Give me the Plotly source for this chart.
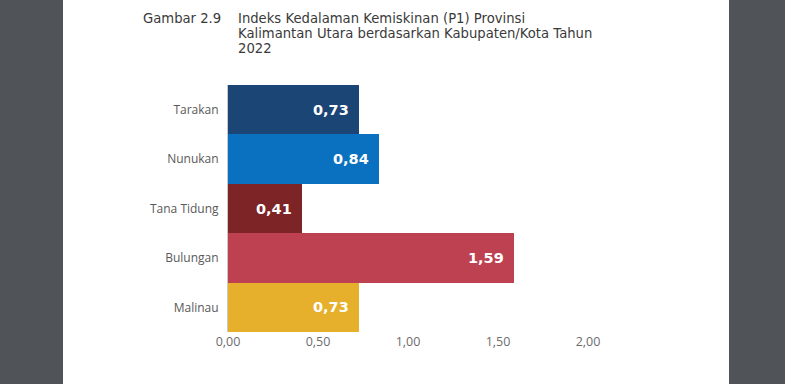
import plotly.graph_objects as go

# Data
regions = ["Tarakan", "Nunukan", "Tana Tidung", "Bulungan", "Malinau"]
p1_values = [0.73, 0.84, 0.41, 1.59, 0.73]
bar_colors = ["#1b4575", "#0a70c0", "#7c2426", "#bd4150", "#e6b02c"]
x_ticks = [0, 0.5, 1.0, 1.5, 2.0]
title_label = "Gambar 2.9"
title_lines = [
    "Indeks Kedalaman Kemiskinan (P1) Provinsi",
    "Kalimantan Utara berdasarkan Kabupaten/Kota Tahun",
    "2022",
]


def fmt(v):
    return f"{v:.2f}".replace(".", ",")


W, H = 785, 384
ML, MR, MT, MB = 228, 197, 85, 52
PW, PH = W - ML - MR, H - MT - MB


def px_x(p):
    return (p - ML) / PW


def px_y(p):
    return (H - MB - p) / PH


fig = go.Figure()
fig.add_trace(go.Bar(
    y=regions,
    x=p1_values,
    orientation="h",
    marker=dict(color=bar_colors, line=dict(width=0)),
    hoverinfo="skip",
))

annotations = []
for r, v in zip(regions, p1_values):
    annotations.append(dict(
        x=v, y=r, xref="x", yref="y", text=fmt(v), showarrow=False,
        xanchor="right", xshift=-8,
        font=dict(family="DejaVu Sans", size=14.5, color="white", weight="bold"),
    ))

title_font = dict(family="DejaVu Sans", size=13.2, color="#3a3a3a")
annotations.append(dict(
    x=px_x(141), y=px_y(19), xref="paper", yref="paper", text=title_label,
    showarrow=False, xanchor="left", yanchor="middle", font=title_font,
))
for i, line in enumerate(title_lines):
    annotations.append(dict(
        x=px_x(236), y=px_y(19 + 14.8 * i), xref="paper", yref="paper", text=line,
        showarrow=False, xanchor="left", yanchor="middle", font=title_font,
    ))

shapes = [dict(
    type="rect", xref="paper", yref="paper",
    x0=px_x(63), x1=px_x(729), y0=px_y(H + 5), y1=px_y(-5),
    fillcolor="white", line=dict(width=0), layer="below",
)]

fig.update_layout(
    width=W, height=H,
    margin=dict(l=ML, r=MR, t=MT, b=MB),
    paper_bgcolor="#505357",
    plot_bgcolor="rgba(0,0,0,0)",
    bargap=0,
    showlegend=False,
    annotations=annotations,
    shapes=shapes,
    xaxis=dict(
        range=[0, 2.0], tickvals=x_ticks, ticktext=[fmt(t) for t in x_ticks],
        showgrid=False, zeroline=False, showline=False,
        ticks="", 
        tickfont=dict(family="Open Sans", size=12.5, color="#6b6b6b"),
        fixedrange=True,
    ),
    yaxis=dict(
        range=[4.5, -0.5], categoryorder="array", categoryarray=regions,
        showgrid=False, zeroline=False,
        showline=True, linecolor="#c8c8c8", linewidth=1,
        ticks="outside", ticklen=6, tickcolor="rgba(0,0,0,0)",
        tickfont=dict(family="Open Sans", size=12, color="#595959"),
        fixedrange=True,
    ),
)

fig.write_html(
    "out.html",
    config={"displayModeBar": False},
    post_script="document.body.style.margin='0';document.body.style.overflow='hidden';",
)
